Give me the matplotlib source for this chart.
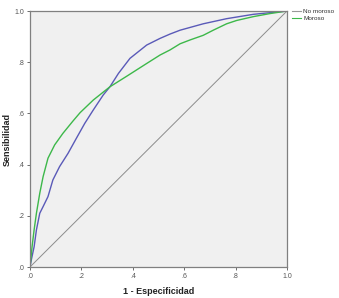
import matplotlib
matplotlib.use("Agg")
import matplotlib.pyplot as plt
from matplotlib.lines import Line2D

plt.rcParams["font.family"] = ["Liberation Sans", "DejaVu Sans"]

# ROC curve for "No moroso"
no_moroso_x = [0.0, 0.005, 0.016, 0.025, 0.038, 0.051, 0.070, 0.089, 0.115, 0.148, 0.18, 0.213,
               0.246, 0.285, 0.311, 0.344, 0.389, 0.454, 0.506, 0.545, 0.584, 0.674, 0.765, 0.869, 1.0]
no_moroso_y = [0.0, 0.027, 0.079, 0.145, 0.21, 0.236, 0.275, 0.34, 0.392, 0.444, 0.502, 0.561,
               0.613, 0.672, 0.704, 0.756, 0.815, 0.867, 0.893, 0.910, 0.925, 0.950, 0.970, 0.987, 1.0]

# ROC curve for "Moroso"
moroso_x = [0.0, 0.003, 0.008, 0.016, 0.025, 0.038, 0.051, 0.070, 0.096, 0.128, 0.167, 0.195,
            0.246, 0.311, 0.376, 0.454, 0.506, 0.545, 0.584, 0.623, 0.674, 0.713, 0.765, 0.804,
            0.869, 0.934, 1.0]
moroso_y = [0.0, 0.027, 0.079, 0.145, 0.21, 0.288, 0.353, 0.425, 0.477, 0.522, 0.570, 0.603,
            0.652, 0.704, 0.745, 0.795, 0.828, 0.848, 0.872, 0.887, 0.905, 0.925, 0.950, 0.963,
            0.978, 0.99, 1.0]

ref_line = [0.0, 1.0]

ticks = [0.0, 0.2, 0.4, 0.6, 0.8, 1.0]
tick_labels = [".0", ".2", ".4", ".6", ".8", "1.0"]

fig = plt.figure(figsize=(3.39, 2.98), dpi=100)
ax = fig.add_axes([30/339, 31/298, 257/339, 256/298])
ax.set_facecolor("#f0f0f0")

ax.plot(ref_line, ref_line, color="#8c8c8c", lw=0.7)
ax.plot(no_moroso_x, no_moroso_y, color="#5a5ab8", lw=1.0)
ax.plot(moroso_x, moroso_y, color="#3db84a", lw=1.0)

ax.set_xlim(0, 1)
ax.set_ylim(0, 1)
ax.set_xticks(ticks)
ax.set_xticklabels(tick_labels)
ax.set_yticks(ticks)
ax.set_yticklabels(tick_labels)
ax.tick_params(labelsize=5, colors="#555555", length=2.5, width=0.6, pad=1.5)
for s in ax.spines.values():
    s.set_color("#808080")
    s.set_linewidth(0.9)

ax.set_xlabel("1 - Especificidad", fontsize=6.5, fontweight="bold", color="#222222", labelpad=5)
ax.set_ylabel("Sensibilidad", fontsize=6.5, fontweight="bold", color="#222222", labelpad=2)

handles = [Line2D([0], [0], color="#999999", lw=0.8),
           Line2D([0], [0], color="#3db84a", lw=0.8)]
leg = ax.legend(handles, ["No moroso", "Moroso"], loc="upper left",
                bbox_to_anchor=(1.008, 1.02), frameon=False, fontsize=4.6,
                handlelength=1.5, handletextpad=0.3, labelspacing=0.3, borderaxespad=0)
for t in leg.get_texts():
    t.set_color("#333333")

fig.savefig("out.png", dpi=100)
